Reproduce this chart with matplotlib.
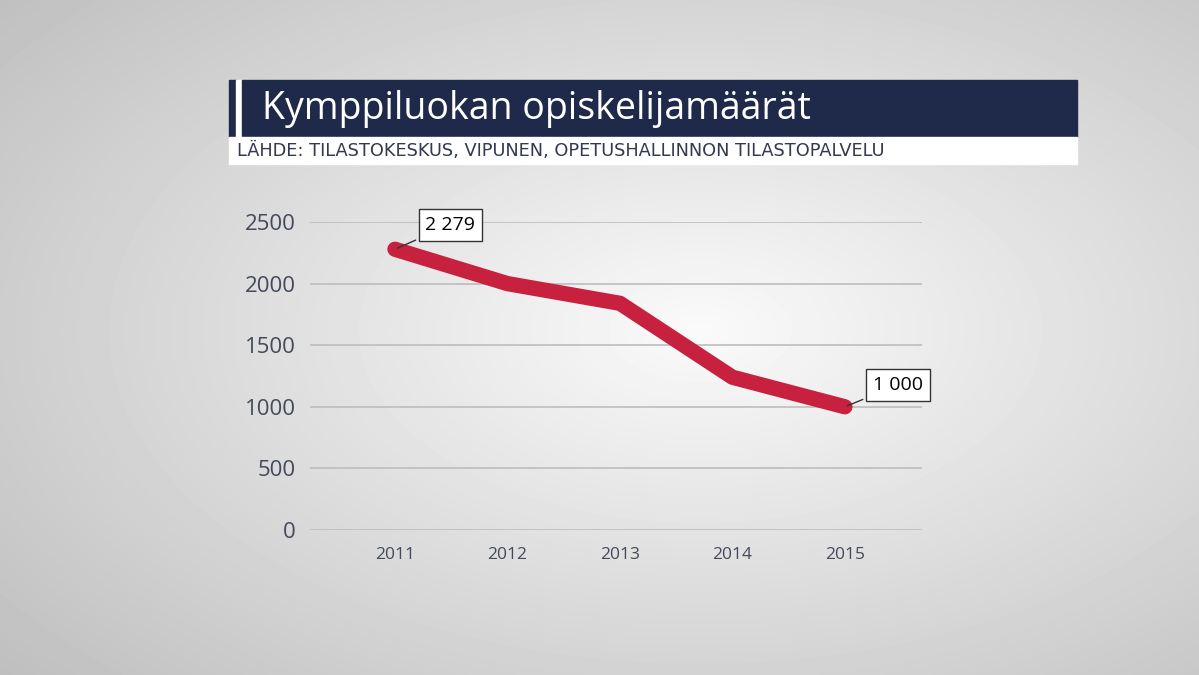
import matplotlib.pyplot as plt
import numpy as np
from matplotlib.patches import Rectangle

years = ['2011', '2012', '2013', '2014', '2015']
students = [2279, 2000, 1840, 1240, 1000]
yticks = [0, 500, 1000, 1500, 2000, 2500]

W, H = 1199, 675
fig = plt.figure(figsize=(W / 100, H / 100), dpi=100)

# background: soft radial gradient
bg = fig.add_axes([0, 0, 1, 1])
yy, xx = np.mgrid[0:H, 0:W]
r = np.sqrt(((xx - 700) / W) ** 2 + ((yy - 330) / H) ** 2)
bg.imshow(0.98 - 0.3 * r, cmap='gray', vmin=0, vmax=1, extent=[0, W, H, 0], aspect='auto')
bg.set_xlim(0, W)
bg.set_ylim(H, 0)
bg.axis('off')

# title strip
bg.add_patch(Rectangle((229, 80), 7, 57, color='#1f2a4a'))
bg.add_patch(Rectangle((236, 80), 6, 57, color='white'))
bg.add_patch(Rectangle((242, 80), 835, 57, color='#1f2a4a'))
bg.add_patch(Rectangle((229, 137), 848, 27, color='white'))
bg.text(262, 109, 'Kymppiluokan opiskelijamäärät', color='white', fontsize=27,
        family='Open Sans', va='center')
bg.text(237, 151, 'LÄHDE: TILASTOKESKUS, VIPUNEN, OPETUSHALLINNON TILASTOPALVELU',
        color='#333a4f', fontsize=12.8, family='DejaVu Sans', va='center')

ax = fig.add_axes([310 / W, 1 - 530 / H, 612 / W, 308 / H])
ax.patch.set_alpha(0)
x = np.arange(len(years))
ax.plot(x, students, color='#c8203f', lw=11, solid_capstyle='round', zorder=3)
ax.set_xlim(-0.755, 4.685)
ax.set_ylim(0, 2500)
ax.set_yticks(yticks)
ax.set_xticks(x, years)
ax.grid(axis='y', color='#bdbdbd', lw=1.2)
for s in ax.spines.values():
    s.set_visible(False)
ax.tick_params(length=0, colors='#444a5c')
ax.tick_params(axis='y', labelsize=16, pad=10)
ax.tick_params(axis='x', labelsize=12.5, pad=12)
for lbl in ax.get_yticklabels() + ax.get_xticklabels():
    lbl.set_family('Open Sans')

box = dict(boxstyle='square,pad=0.35', fc='white', ec='#333333', lw=1)
ax.annotate('2 279', (0, students[0]), xytext=(22, 14), textcoords='offset points',
            fontsize=14, family='Open Sans', bbox=box,
            arrowprops=dict(arrowstyle='-', color='#333333', lw=1))
ax.annotate('1 000', (4, students[4]), xytext=(20, 12), textcoords='offset points',
            fontsize=14, family='Open Sans', bbox=box,
            arrowprops=dict(arrowstyle='-', color='#333333', lw=1))

fig.savefig('out.png', dpi=100)
